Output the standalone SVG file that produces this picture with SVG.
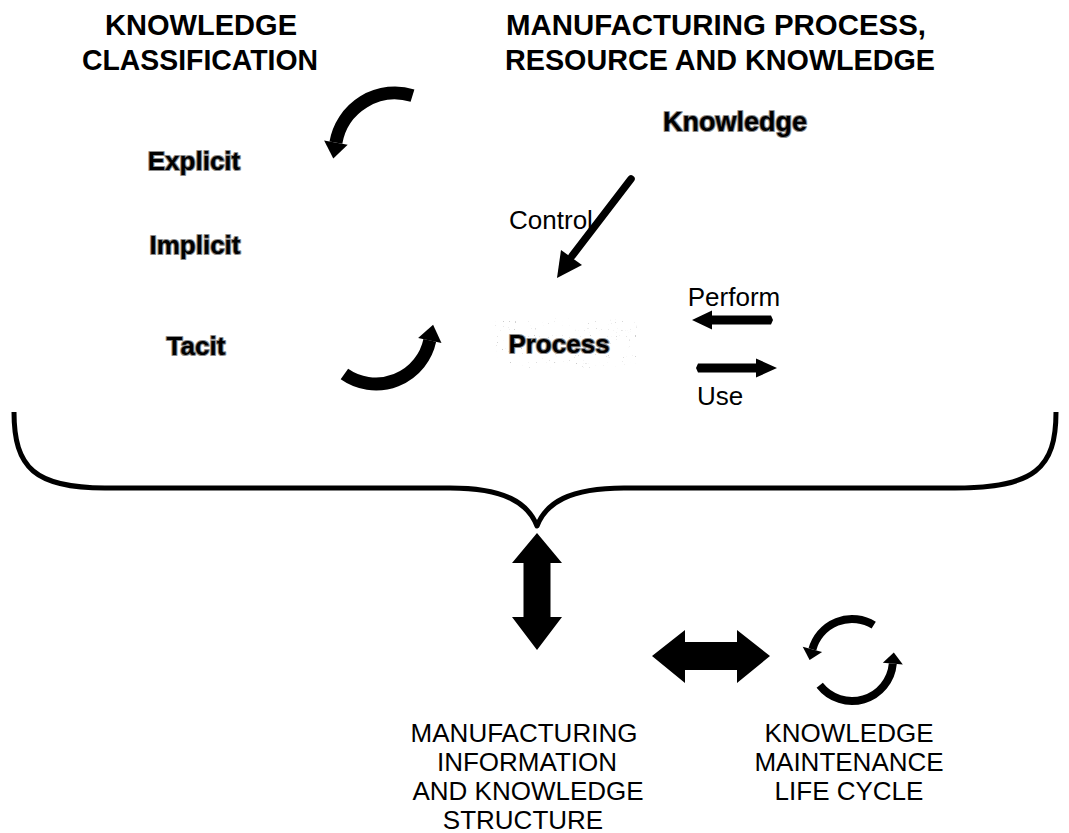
<svg xmlns="http://www.w3.org/2000/svg" width="1069" height="833" viewBox="0 0 1069 833">
  <style>
    .head { font-family: "Liberation Sans Narrow", "Liberation Sans", Arial, sans-serif; font-size: 30px; font-weight: bold; fill: #000; text-anchor: middle; }
    .cap { font-family: "Liberation Sans", Arial, sans-serif; font-size: 26px; fill: #000; text-anchor: middle; }
    .lbl { font-family: "Liberation Sans", Arial, sans-serif; font-size: 26px; font-weight: bold; fill: #000; text-anchor: middle; paint-order: stroke; stroke: #8c8c8c; stroke-width: 2.2; stroke-linejoin: round; }
    .rel { font-family: "Liberation Sans", Arial, sans-serif; font-size: 26px; fill: #000; text-anchor: middle; }
    .arc { fill: none; stroke: #000; stroke-linecap: butt; }
    .solid { fill: #000; stroke: none; }
  </style>
  <defs>
    <!-- sparse grey speckle used behind the Process label -->
    <filter id="grain" x="0" y="0" width="100%" height="100%">
      <feTurbulence type="fractalNoise" baseFrequency="0.85" numOctaves="1" seed="7" result="n"/>
      <feColorMatrix in="n" type="matrix" values="0 0 0 0 0.6  0 0 0 0 0.6  0 0 0 0 0.6  0 0 0 -12 3.6" result="dots"/>
      <feComposite in="dots" in2="SourceAlpha" operator="in"/>
    </filter>
  </defs>
  <rect width="1069" height="833" fill="#fff"/>

  <!-- section headings -->
  <g id="heading-classification">
    <text class="head" x="201" y="35" textLength="192" lengthAdjust="spacingAndGlyphs">KNOWLEDGE</text>
    <text class="head" x="200" y="70" textLength="236" lengthAdjust="spacingAndGlyphs">CLASSIFICATION</text>
  </g>
  <g id="heading-manufacturing">
    <text class="head" x="716" y="35" textLength="420" lengthAdjust="spacingAndGlyphs">MANUFACTURING PROCESS,</text>
    <text class="head" x="720" y="70" textLength="430" lengthAdjust="spacingAndGlyphs">RESOURCE AND KNOWLEDGE</text>
  </g>

  <!-- knowledge classes -->
  <g id="node-explicit"><text class="lbl" x="194" y="170">Explicit</text></g>
  <g id="node-implicit"><text class="lbl" x="195" y="254">Implicit</text></g>
  <g id="node-tacit"><text class="lbl" x="196" y="355">Tacit</text></g>

  <!-- cycle between the classes -->
  <g id="cycle-classification">
    <path class="arc" stroke-width="13" d="M412.5,95.6 A60,60 0 0 0 335.9,142.6"/>
    <polygon class="solid" points="347.7,144.7 324.1,140.5 333.3,158.4"/>
    <path class="arc" stroke-width="13" d="M344.4,374 A55,55 0 0 0 429.8,340.4"/>
    <polygon class="solid" points="441.5,342.9 418.1,337.9 433.1,324.8"/>
  </g>

  <!-- process / resource / knowledge -->
  <g id="node-knowledge"><text class="lbl" x="735" y="131" style="font-size:27px">Knowledge</text></g>
  <g id="node-process">
    <rect x="493" y="318" width="144" height="50" fill="#fff" filter="url(#grain)"/>
    <text class="lbl" x="559" y="353">Process</text>
  </g>

  <g id="connectors">
    <!-- Control -->
    <line x1="631" y1="179" x2="572" y2="256" stroke="#000" stroke-width="7.5" stroke-linecap="round"/>
    <polygon class="solid" points="582,265 561,250 557,278"/>
    <text class="rel" x="551" y="229">Control</text>
    <!-- Perform -->
    <text class="rel" x="734" y="306">Perform</text>
    <polygon class="solid" points="692,320 712,310.5 712,315.5 771,315.5 773,320 771,324.5 712,324.5 712,329.5"/>
    <!-- Use -->
    <polygon class="solid" points="777,368 756,358.5 756,363.5 698,363.5 696,368 698,372.5 756,372.5 756,377.5"/>
    <text class="rel" x="720" y="405">Use</text>

    <!-- brace grouping the top half -->
    <path d="M14,412 C14,468 35,488 105,488 L450,488 C505,488 528,503 537,526 C546,503 569,488 624,488 L955,488 C1035,488 1056,468 1056,412" fill="none" stroke="#000" stroke-width="5" stroke-linejoin="round"/>

    <!-- vertical double arrow -->
    <polygon class="solid" points="537,533 562,563 550.5,563 550.5,617 562,617 537,650 512,617 523.5,617 523.5,563 512,563"/>
    <!-- horizontal double arrow -->
    <polygon class="solid" points="652,656 685,630 685,642 737,642 737,630 770,656 737,683 737,670 685,670 685,683"/>
  </g>

  <!-- bottom nodes -->
  <g id="node-structure">
    <text class="cap" x="524" y="742">MANUFACTURING</text>
    <text class="cap" x="527" y="771">INFORMATION</text>
    <text class="cap" x="528" y="800">AND KNOWLEDGE</text>
    <text class="cap" x="523" y="829">STRUCTURE</text>
  </g>
  <g id="node-lifecycle">
    <path class="arc" stroke-width="8" d="M873.7,625.2 A41,41 0 0 0 812.4,649.4"/>
    <polygon class="solid" points="822.1,652 802.7,646.8 809.6,660"/>
    <path class="arc" stroke-width="8" d="M819.7,685.3 A41,41 0 0 0 892.8,663.6"/>
    <polygon class="solid" points="902.8,664.5 882.8,662.7 893.8,652.6"/>
    <text class="cap" x="849" y="742">KNOWLEDGE</text>
    <text class="cap" x="849" y="771">MAINTENANCE</text>
    <text class="cap" x="849" y="800">LIFE CYCLE</text>
  </g>
</svg>
